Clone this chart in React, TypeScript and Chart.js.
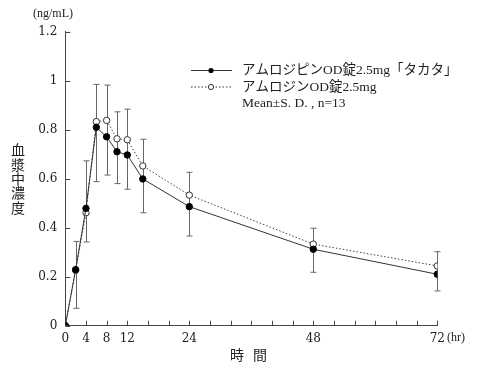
import React, { useEffect, useRef } from "react";
import { Chart, registerables } from "chart.js";
Chart.register(...registerables);

const times = [0, 2, 4, 6, 8, 10, 12, 15, 24, 48, 72];
const testMean = [0, 0.229, 0.479, 0.81, 0.771, 0.71, 0.697, 0.599, 0.486, 0.312, 0.21];
const testSD = [0, 0.158, 0.137, 0.222, 0.156, 0.13, 0.14, 0.138, 0.12, 0.094, 0.068];
const refMean = [0, 0.226, 0.461, 0.833, 0.838, 0.763, 0.759, 0.652, 0.533, 0.333, 0.244];
const refSD = [0, 0.118, 0.212, 0.152, 0.144, 0.11, 0.125, 0.109, 0.093, 0.065, 0.058];

const xLabelValues = [0, 4, 8, 12, 24, 48, 72];
const xMinorStep = 4;
const yTickValues = [0, 0.2, 0.4, 0.6, 0.8, 1, 1.2];

const testName = "アムロジピンOD錠2.5mg「タカタ」";
const refName = "アムロジンOD錠2.5mg";
const noteText = "Mean±S. D. , n=13";
const yTitle = "血漿中濃度";
const xTitle = ["時", "間"];
const yUnit = "(ng/mL)";
const xUnit = "(hr)";

const FONT = "'DejaVu Serif', 'Liberation Serif', 'Noto Sans CJK JP', serif";
const LFONT = "'Liberation Serif', 'Noto Sans CJK JP', serif";
const JFONT = "'Noto Sans CJK JP', 'Liberation Serif', sans-serif";

export default function App() {
  const ref = useRef<HTMLCanvasElement | null>(null);
  useEffect(() => {
    document.body.style.margin = "0";
    const canvas = ref.current!;
    const decor = {
      id: "decor",
      beforeDatasetsDraw(chart: any) {
        const ctx = chart.ctx;
        const xs = chart.scales.x;
        const ys = chart.scales.y;
        ctx.save();
        ctx.strokeStyle = "#666";
        ctx.lineWidth = 1;
        for (let i = 0; i < times.length; i++) {
          if (refSD[i] === 0 && testSD[i] === 0) continue;
          const x = Math.round(xs.getPixelForValue(times[i])) + 0.5;
          const top = ys.getPixelForValue(refMean[i] + refSD[i]);
          const bot = ys.getPixelForValue(testMean[i] - testSD[i]);
          ctx.beginPath();
          ctx.moveTo(x, top);
          ctx.lineTo(x, bot);
          ctx.moveTo(x - 3, top);
          ctx.lineTo(x + 3, top);
          ctx.moveTo(x - 3, bot);
          ctx.lineTo(x + 3, bot);
          ctx.stroke();
        }
        ctx.strokeStyle = "#444";
        const left = chart.chartArea.left;
        const bottom = chart.chartArea.bottom;
        ctx.beginPath();
        for (const v of yTickValues) {
          const y = Math.round(ys.getPixelForValue(v)) + 0.5;
          ctx.moveTo(left, y);
          ctx.lineTo(left + 5, y);
        }
        for (let v = xs.min; v <= xs.max; v += xMinorStep) {
          const x = Math.round(xs.getPixelForValue(v)) + 0.5;
          ctx.moveTo(x, bottom);
          ctx.lineTo(x, bottom - 5);
        }
        ctx.stroke();
        ctx.restore();
      },
      afterDraw(chart: any) {
        const ctx = chart.ctx;
        ctx.save();
        ctx.fillStyle = "#222";
        ctx.textBaseline = "middle";
        ctx.font = "12px " + LFONT;
        ctx.textAlign = "left";
        ctx.fillText(yUnit, 33, 14);
        ctx.fillText(xUnit, 447, 338);
        ctx.font = "14px " + JFONT;
        ctx.textAlign = "center";
        Array.from(yTitle).forEach((c, i) => ctx.fillText(c, 18, 150 + i * 14.3));
        ctx.fillText(xTitle[0], 237, 355);
        ctx.fillText(xTitle[1], 260, 355);
        const lx0 = 191, lx1 = 232, mx = 211;
        const rows = [70.5, 87, 103.5];
        ctx.strokeStyle = "#333";
        ctx.lineWidth = 1;
        ctx.beginPath();
        ctx.moveTo(lx0, rows[0]);
        ctx.lineTo(lx1, rows[0]);
        ctx.stroke();
        ctx.fillStyle = "#000";
        ctx.beginPath();
        ctx.arc(mx, rows[0], 2.6, 0, Math.PI * 2);
        ctx.fill();
        ctx.setLineDash([1.5, 2]);
        ctx.beginPath();
        ctx.moveTo(lx0, rows[1]);
        ctx.lineTo(lx1, rows[1]);
        ctx.stroke();
        ctx.setLineDash([]);
        ctx.fillStyle = "#fff";
        ctx.beginPath();
        ctx.arc(mx, rows[1], 2.6, 0, Math.PI * 2);
        ctx.fill();
        ctx.stroke();
        ctx.fillStyle = "#222";
        ctx.textAlign = "left";
        ctx.font = "13.5px " + LFONT;
        ctx.fillText(testName, 242, rows[0]);
        ctx.fillText(refName, 242, rows[1]);
        ctx.fillText(noteText, 242, rows[2]);
        ctx.restore();
      },
    };

    const chart = new Chart(canvas, {
      type: "line",
      data: {
        datasets: [
          {
            label: testName,
            data: times.map((t, i) => ({ x: t, y: testMean[i] })),
            borderColor: "#333",
            borderWidth: 1,
            pointBackgroundColor: "#000",
            pointBorderColor: "#000",
            pointRadius: 3.2,
            pointBorderWidth: 1,
            tension: 0,
            fill: false,
          },
          {
            label: refName,
            data: times.map((t, i) => ({ x: t, y: refMean[i] })),
            borderColor: "#444",
            borderWidth: 1,
            borderDash: [1.5, 2],
            pointBackgroundColor: "#fff",
            pointBorderColor: "#333",
            pointRadius: 3.2,
            pointBorderWidth: 1,
            tension: 0,
            fill: false,
          },
        ],
      },
      options: {
        responsive: false,
        animation: false,
        devicePixelRatio: 1,
        layout: { padding: { left: 0, top: 31.7, right: 46.7, bottom: 0 } },
        plugins: { legend: { display: false }, tooltip: { enabled: false } },
        scales: {
          x: {
            type: "linear",
            min: 0,
            max: 72,
            afterBuildTicks: (s: any) => {
              s.ticks = xLabelValues.map((v) => ({ value: v }));
            },
            afterFit: (s: any) => {
              s.height = 54.3;
            },
            grid: { display: false, drawTicks: false },
            border: { display: true, color: "#444", width: 1 },
            ticks: {
              autoSkip: false,
              maxRotation: 0,
              padding: 6,
              color: "#222",
              font: { family: FONT, size: 12 },
              callback: (v: any) => String(v),
            },
          },
          y: {
            type: "linear",
            min: 0,
            max: 1.2,
            afterBuildTicks: (s: any) => {
              s.ticks = yTickValues.map((v) => ({ value: v }));
            },
            afterFit: (s: any) => {
              s.width = 65.3;
            },
            grid: { display: false, drawTicks: false },
            border: { display: true, color: "#444", width: 1 },
            ticks: {
              padding: 8,
              color: "#222",
              font: { family: FONT, size: 12 },
              callback: (v: any) => String(Math.round(Number(v) * 10) / 10),
            },
          },
        },
      },
      plugins: [decor],
    } as any);
    return () => chart.destroy();
  }, []);
  return (
    <div style={{ width: 484, height: 380 }}>
      <canvas ref={ref} width={484} height={380} style={{ display: "block" }} />
    </div>
  );
}
